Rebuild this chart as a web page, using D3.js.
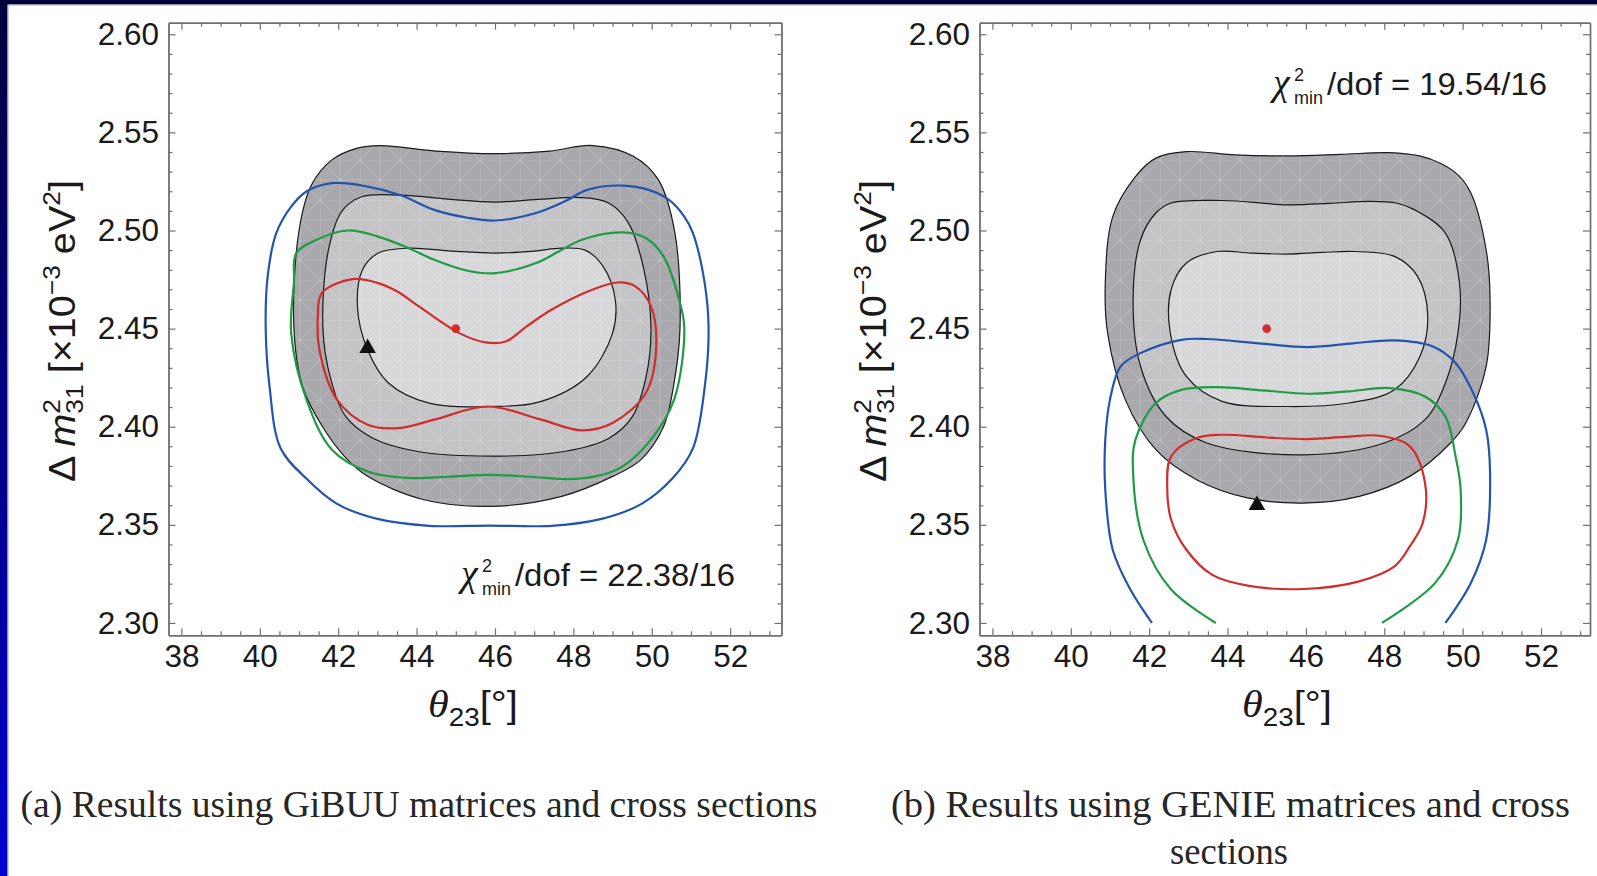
<!DOCTYPE html>
<html><head><meta charset="utf-8">
<script src="https://cdn.jsdelivr.net/npm/d3@7"></script>
<style>body{margin:0;background:#fff}svg{display:block}</style>
</head><body>
<svg id="chart" width="1597" height="876"></svg>
<script>
// ---------------- DATA ----------------
const xMajor = [38, 40, 42, 44, 46, 48, 50, 52];
const yMajor = [2.30, 2.35, 2.40, 2.45, 2.50, 2.55, 2.60];
const yTickLabels = ["2.30", "2.35", "2.40", "2.45", "2.50", "2.55", "2.60"];

// Panel (a) GiBUU : [theta23, dm2_31]
const gibuuOuter = [[41.84,2.536],[42.49,2.542],[43.08,2.5433],[44.5,2.5405],[46.01,2.5392],[47.4,2.5405],[48.49,2.5433],[49.53,2.5378],[50.17,2.5258],[50.59,2.4988],[50.72,2.45],[50.55,2.42],[50.3,2.40],[49.71,2.383],[49.0,2.3747],[47.7,2.3645],[45.88,2.3594],[44.19,2.3628],[42.75,2.3747],[42.2,2.384],[41.6,2.40],[41.1,2.42],[40.87,2.45],[41.0,2.50],[41.32,2.5233]];
const gibuuMid = [[41.75,2.49],[42.1,2.510],[42.6,2.5172],[43.6,2.518],[44.8,2.516],[46.0,2.5145],[47.2,2.516],[48.2,2.5168],[48.9,2.514],[49.4,2.504],[49.8,2.48],[49.98,2.45],[49.85,2.425],[49.5,2.405],[48.9,2.394],[47.8,2.3875],[45.9,2.385],[44.0,2.3875],[42.9,2.394],[42.2,2.405],[41.8,2.425],[41.61,2.45]];
const gibuuInner = [[42.62,2.48],[43.02,2.4885],[43.79,2.491],[44.9,2.4895],[46.01,2.4885],[47.0,2.4895],[47.7,2.491],[48.3,2.490],[48.75,2.482],[49.07,2.4647],[49.0,2.4477],[48.35,2.4256],[47.18,2.4129],[45.88,2.4103],[44.32,2.412],[43.28,2.4223],[42.75,2.4392],[42.49,2.4613]];
const gibuuBlue = [[40.8,2.5122],[41.19,2.5199],[41.84,2.5241],[42.75,2.5224],[43.6,2.518],[44.45,2.5105],[45.3,2.5065],[46.01,2.5051],[47.05,2.5089],[47.8,2.515],[48.35,2.5207],[49.26,2.5229],[49.92,2.5207],[50.44,2.5156],[50.83,2.5071],[51.05,2.4987],[51.35,2.4732],[51.45,2.45],[51.35,2.42],[51.05,2.389],[50.53,2.3737],[49.75,2.3608],[48.72,2.353],[47.44,2.3495],[45.88,2.3496],[44.32,2.3495],[43.0,2.353],[41.96,2.3608],[41.18,2.3737],[40.53,2.389],[40.25,2.42],[40.15,2.45],[40.2,2.4766],[40.42,2.4987]];
const gibuuGreen = [[40.93,2.4885],[41.45,2.4953],[42.24,2.5],[43.02,2.4969],[43.8,2.491],[44.45,2.4851],[45.3,2.4795],[46.01,2.4783],[47.05,2.4834],[47.6,2.489],[48.22,2.4953],[49.26,2.499],[49.85,2.4961],[50.3,2.4868],[50.7,2.4647],[50.83,2.45],[50.57,2.4138],[49.98,2.3934],[49.26,2.3798],[48.74,2.3755],[47.96,2.3733],[46.9,2.3745],[45.88,2.3755],[44.8,2.3745],[43.79,2.3739],[42.75,2.3772],[41.84,2.3883],[41.19,2.4138],[40.8,2.4477],[40.87,2.4732]];
const gibuuRed = [[41.58,2.4681],[42.36,2.4752],[43.02,2.4732],[43.5,2.469],[44.06,2.4613],[45.09,2.4477],[45.75,2.443],[46.27,2.4434],[46.8,2.451],[47.44,2.4596],[48.48,2.4698],[49.13,2.4735],[49.58,2.4715],[49.98,2.4613],[50.11,2.4392],[49.85,2.4172],[49.0,2.4019],[48.22,2.3981],[47.18,2.4036],[45.81,2.4103],[44.45,2.4036],[43.54,2.3993],[42.75,2.401],[41.97,2.4138],[41.52,2.4392],[41.48,2.4562]];
const gibuuBest = [45.0, 2.45];
const gibuuTrue = [42.75, 2.44];
const gibuuChi = "22.38/16";

// Panel (b) GENIE
const genieOuter = [[42.17,2.5369],[42.95,2.5402],[44.2,2.5385],[45.54,2.538],[46.9,2.5388],[48.13,2.5397],[48.9,2.538],[49.43,2.5343],[49.9,2.528],[50.21,2.5191],[50.6,2.4902],[50.7,2.4647],[50.6,2.4307],[50.08,2.4019],[49.69,2.3917],[48.65,2.3747],[47.36,2.3645],[45.93,2.3611],[44.51,2.3637],[43.21,2.373],[42.17,2.3883],[41.39,2.4138],[40.94,2.4477],[40.88,2.4732],[41.07,2.5071],[41.65,2.5275]];
const genieMid = [[42.17,2.5089],[42.56,2.514],[43.86,2.5153],[45.54,2.5131],[46.6,2.5138],[47.62,2.5148],[48.3,2.514],[48.78,2.5105],[49.56,2.4987],[49.92,2.4732],[49.88,2.4477],[49.56,2.4223],[49.04,2.4036],[48.0,2.3917],[45.93,2.3857],[43.47,2.3917],[42.43,2.4052],[41.78,2.4307],[41.59,2.4647],[41.78,2.4953]];
const genieInner = [[42.95,2.4834],[43.73,2.4893],[44.6,2.4885],[45.54,2.488],[46.4,2.4888],[47.23,2.4893],[48.26,2.4868],[48.85,2.4766],[49.11,2.4562],[48.91,2.4358],[48.26,2.4188],[47.1,2.4121],[45.54,2.4103],[43.86,2.4129],[42.95,2.4256],[42.54,2.4477],[42.56,2.4698]];
const genieBlue = [[42.07,2.30],[41.52,2.317],[41.07,2.3373],[40.88,2.3679],[40.88,2.3934],[41.0,2.4138],[41.27,2.4307],[41.78,2.4375],[42.82,2.4443],[43.47,2.4447],[44.8,2.4425],[46.06,2.4406],[47.2,2.4425],[48.26,2.444],[49.24,2.4409],[49.82,2.4325],[50.27,2.4172],[50.6,2.3985],[50.7,2.3764],[50.6,2.3424],[50.21,2.3204],[49.56,2.30]];
const genieGreen = [[43.7,2.30],[42.56,2.317],[41.85,2.3424],[41.59,2.3764],[41.65,2.3934],[42.17,2.4121],[42.82,2.4188],[43.73,2.4202],[44.9,2.4185],[46.06,2.4168],[47.1,2.418],[48.13,2.4197],[49.04,2.4154],[49.56,2.4052],[49.82,2.3849],[49.95,2.3679],[49.88,2.3424],[49.3,2.3204],[47.94,2.30]];
const genieRed = [[43.21,2.3942],[43.86,2.3959],[45.0,2.3945],[46.06,2.3937],[47.0,2.3948],[47.88,2.3954],[48.65,2.39],[49.04,2.3713],[48.98,2.3509],[48.65,2.339],[48.26,2.3288],[47.36,2.3212],[45.93,2.3173],[44.51,2.319],[43.6,2.3246],[42.95,2.3373],[42.56,2.3526],[42.46,2.3696],[42.56,2.3849]];
const genieBest = [45.0, 2.45];
const genieTrue = [44.75, 2.36];
const genieChi = "19.54/16";

const captionA = "(a) Results using GiBUU matrices and cross sections";
const captionB1 = "(b) Results using GENIE matrices and cross";
const captionB2 = "sections";

// ---------------- DRAW ----------------
const svg = d3.select("#chart");
const defs = svg.append("defs");
const grad = defs.append("linearGradient").attr("id","edge").attr("x1",0).attr("y1",0).attr("x2",0).attr("y2",1);
grad.append("stop").attr("offset","0%").attr("stop-color","#00003c");
grad.append("stop").attr("offset","100%").attr("stop-color","#0000d0");
const pat = defs.append("pattern").attr("id","mesh").attr("patternUnits","userSpaceOnUse")
  .attr("width",40).attr("height",40);
pat.append("path").attr("d","M0,0L40,40M40,0L0,40M20,0V40M0,20H40M0,0H40M0,0V40")
  .attr("stroke","#fff").attr("stroke-opacity",0.22).attr("stroke-width",0.9).attr("fill","none");

svg.append("rect").attr("width",1597).attr("height",876).attr("fill","#fff");
svg.append("rect").attr("x",0).attr("y",0).attr("width",1597).attr("height",4.5).attr("fill","#00003a");
svg.append("line").attr("x1",0).attr("x2",1597).attr("y1",5).attr("y2",5).attr("stroke","#a8a8b8").attr("stroke-width",1);
svg.append("rect").attr("x",0).attr("y",0).attr("width",7.5).attr("height",876).attr("fill","url(#edge)");
svg.append("line").attr("x1",8).attr("x2",8).attr("y1",5).attr("y2",876).attr("stroke","#9a9ab8").attr("stroke-width",1);

const panels = [
  {id:"a", x0:168.5, x1:781.5, dom:[37.67,53.31], outer:gibuuOuter, mid:gibuuMid, inner:gibuuInner,
   blue:gibuuBlue, green:gibuuGreen, red:gibuuRed, open:false, best:gibuuBest, tru:gibuuTrue,
   chi:gibuuChi, chiPos:[458,586], ylabX:75, xtitX:473},
  {id:"b", x0:979.5, x1:1590, dom:[37.67,53.25], outer:genieOuter, mid:genieMid, inner:genieInner,
   blue:genieBlue, green:genieGreen, red:genieRed, open:true, best:genieBest, tru:genieTrue,
   chi:genieChi, chiPos:[1270,95], ylabX:886, xtitX:1287}
];
const yTop = 22.7, yBot = 635.3;
const sans = "'Liberation Sans', Arial, Helvetica, sans-serif";
const serif = "'Liberation Serif', 'Times New Roman', serif";

const xMinor = d3.range(76, 107).map(v => v/2).filter(v => !xMajor.includes(v));
const yMinor = d3.range(230, 261).map(v => v/100).filter(v => !yMajor.some(m => Math.abs(m-v)<1e-9));

panels.forEach(p => {
  const x = d3.scaleLinear().domain(p.dom).range([p.x0, p.x1]);
  const y = d3.scaleLinear().domain([2.2937, 2.6059]).range([yBot, yTop]);
  const g = svg.append("g");
  const clipId = "clip" + p.id;
  defs.append("clipPath").attr("id", clipId).append("rect")
    .attr("x", p.x0).attr("y", yTop).attr("width", p.x1-p.x0).attr("height", yBot-yTop);
  const plot = g.append("g").attr("clip-path", `url(#${clipId})`);
  const closed = d3.line().x(d=>x(d[0])).y(d=>y(d[1])).curve(d3.curveCatmullRomClosed.alpha(0.5));
  const openL = d3.line().x(d=>x(d[0])).y(d=>y(d[1])).curve(d3.curveCatmullRom.alpha(0.5));

  plot.append("path").attr("d", closed(p.outer)).attr("fill","#a9a9ad");
  plot.append("path").attr("d", closed(p.mid)).attr("fill","#c4c4c7");
  plot.append("path").attr("d", closed(p.inner)).attr("fill","#d8d8da");
  plot.append("path").attr("d", closed(p.outer)).attr("fill","url(#mesh)");
  [p.outer, p.mid, p.inner].forEach(c => plot.append("path").attr("d", closed(c))
    .attr("fill","none").attr("stroke","#1a1a1a").attr("stroke-width",1.2));

  const lg = p.open ? openL : closed;
  plot.append("path").attr("d", lg(p.blue)).attr("fill","none").attr("stroke","#2454ad").attr("stroke-width",2.2);
  plot.append("path").attr("d", lg(p.green)).attr("fill","none").attr("stroke","#1f9a45").attr("stroke-width",2.2);
  plot.append("path").attr("d", closed(p.red)).attr("fill","none").attr("stroke","#d22d2d").attr("stroke-width",2.2);

  plot.append("circle").attr("cx", x(p.best[0])).attr("cy", y(p.best[1])).attr("r",4.3).attr("fill","#d22d2d");
  plot.append("path").attr("d", d3.symbol(d3.symbolTriangle, 120)())
    .attr("transform", `translate(${x(p.tru[0])},${y(p.tru[1])})`).attr("fill","#111");

  // axes
  const axCol = "#707070";
  const styleAxis = (sel) => {
    sel.selectAll(".domain").attr("stroke", axCol).attr("stroke-width",1.4);
    sel.selectAll(".tick line").attr("stroke", axCol).attr("stroke-width",1.2);
    sel.selectAll("text").attr("font-family", sans).attr("font-size",31.5).attr("fill","#1a1a1a");
  };
  const fmt = d => yTickLabels[yMajor.findIndex(m => Math.abs(m-d)<1e-9)];
  g.append("g").attr("transform",`translate(0,${yBot})`)
    .call(d3.axisBottom(x).tickValues(xMajor).tickSize(-7).tickSizeOuter(0).tickPadding(9.5)).call(styleAxis);
  g.append("g").attr("transform",`translate(0,${yBot})`)
    .call(d3.axisBottom(x).tickValues(xMinor).tickSize(-4).tickSizeOuter(0).tickFormat("")).call(styleAxis);
  g.append("g").attr("transform",`translate(0,${yTop})`)
    .call(d3.axisTop(x).tickValues(xMajor).tickSize(-7).tickSizeOuter(0).tickFormat("")).call(styleAxis);
  g.append("g").attr("transform",`translate(0,${yTop})`)
    .call(d3.axisTop(x).tickValues(xMinor).tickSize(-4).tickSizeOuter(0).tickFormat("")).call(styleAxis);
  g.append("g").attr("transform",`translate(${p.x0},0)`)
    .call(d3.axisLeft(y).tickValues(yMajor).tickSize(-7).tickSizeOuter(0).tickPadding(9.5).tickFormat(fmt)).call(styleAxis);
  g.append("g").attr("transform",`translate(${p.x0},0)`)
    .call(d3.axisLeft(y).tickValues(yMinor).tickSize(-4).tickSizeOuter(0).tickFormat("")).call(styleAxis);
  g.append("g").attr("transform",`translate(${p.x1},0)`)
    .call(d3.axisRight(y).tickValues(yMajor).tickSize(-7).tickSizeOuter(0).tickFormat("")).call(styleAxis);
  g.append("g").attr("transform",`translate(${p.x1},0)`)
    .call(d3.axisRight(y).tickValues(yMinor).tickSize(-4).tickSizeOuter(0).tickFormat("")).call(styleAxis);

  // chi^2 label
  const [cx, cy] = p.chiPos;
  g.append("text").attr("x",cx+3).attr("y",cy).attr("font-family",serif).attr("font-style","italic")
    .attr("font-size",38).attr("fill","#1a1a1a").text("χ");
  g.append("text").attr("x",cx+24).attr("y",cy-14).attr("font-family",sans).attr("font-size",18).attr("fill","#1a1a1a").text("2");
  g.append("text").attr("x",cx+24).attr("y",cy+9).attr("font-family",sans).attr("font-size",18).attr("fill","#1a1a1a").text("min");
  g.append("text").attr("x",cx+57).attr("y",cy).attr("font-family",sans).attr("font-size",31).attr("fill","#1a1a1a")
    .attr("textLength",220).attr("lengthAdjust","spacingAndGlyphs").text("/dof = " + p.chi);

  // y label
  const yl = g.append("text").attr("transform",`translate(${p.ylabX},331) rotate(-90)`)
    .attr("text-anchor","middle").attr("font-family",sans).attr("font-size",36).attr("fill","#1a1a1a")
    .attr("textLength",302).attr("lengthAdjust","spacingAndGlyphs");
  yl.append("tspan").text("Δ ");
  yl.append("tspan").attr("font-style","italic").text("m");
  yl.append("tspan").attr("font-size",24).attr("dy",-15).text("2");
  yl.append("tspan").attr("font-size",24).attr("dx",-13.3).attr("dy",23).text("31");
  yl.append("tspan").attr("font-size",36).attr("dy",-8).text(" [×10");
  yl.append("tspan").attr("font-size",24).attr("dy",-15).text("−3");
  yl.append("tspan").attr("font-size",36).attr("dy",15).text(" eV");
  yl.append("tspan").attr("font-size",24).attr("dy",-15).text("2");
  yl.append("tspan").attr("font-size",36).attr("dy",15).text("]");

  // x title
  const xt = g.append("text").attr("x",p.xtitX).attr("y",717).attr("text-anchor","middle")
    .attr("font-family",sans).attr("font-size",36).attr("fill","#1a1a1a")
    .attr("textLength",90).attr("lengthAdjust","spacingAndGlyphs");
  xt.append("tspan").attr("font-family",serif).attr("font-style","italic").attr("font-size",38).text("θ");
  xt.append("tspan").attr("font-size",25).attr("dy",9).text("23");
  xt.append("tspan").attr("font-size",36).attr("dy",-9).text("[°]");
});

// captions
svg.append("text").attr("x",20.5).attr("y",817).attr("font-family",serif).attr("font-size",37).attr("fill","#262626")
  .attr("textLength",797).attr("lengthAdjust","spacingAndGlyphs").text(captionA);
svg.append("text").attr("x",891).attr("y",817).attr("font-family",serif).attr("font-size",37).attr("fill","#262626")
  .attr("textLength",679).attr("lengthAdjust","spacingAndGlyphs").text(captionB1);
svg.append("text").attr("x",1229).attr("y",864).attr("text-anchor","middle").attr("font-family",serif).attr("font-size",37).attr("fill","#262626")
  .attr("textLength",118).attr("lengthAdjust","spacingAndGlyphs").text(captionB2);
</script>
</body></html>
